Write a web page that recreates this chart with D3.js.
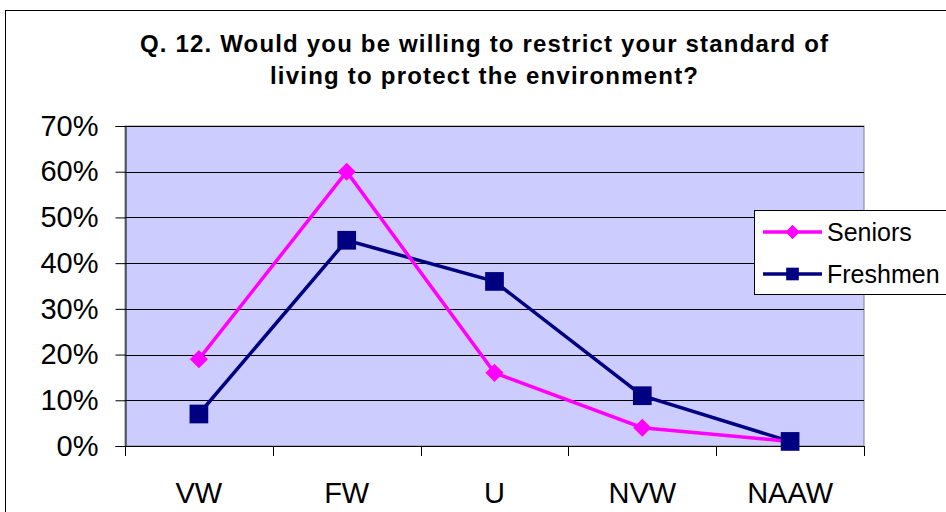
<!DOCTYPE html>
<html>
<head>
<meta charset="utf-8">
<script src="https://cdn.jsdelivr.net/npm/d3@7"></script>
<style>
  body { margin: 0; background: #fff; }
  text { font-family: Arial, "Liberation Sans", sans-serif; }
</style>
</head>
<body>
<svg id="chart"></svg>
<script>
const categories = ['VW', 'FW', 'U', 'NVW', 'NAAW'];
const seniors    = [0.19, 0.60, 0.16, 0.04, 0.01];
const freshmen   = [0.07, 0.45, 0.36, 0.11, 0.01];
const yTicks     = [0, 0.1, 0.2, 0.3, 0.4, 0.5, 0.6, 0.7];
const titleLines = ['Q. 12. Would you be willing to restrict your standard of',
                    'living to protect the environment?'];

const SENIOR_COLOR   = '#ff00ff';
const FRESHMAN_COLOR = '#000080';

const W = 946, H = 512;
const svg = d3.select('#chart').attr('width', W).attr('height', H);

// outer chart frame
svg.append('rect')
    .attr('x', 5.5).attr('y', 10.5)
    .attr('width', 1000).attr('height', 600)
    .attr('fill', '#fff').attr('stroke', '#000');

const plot = { left: 125, top: 126, right: 864, bottom: 446 };

const x = d3.scaleBand().domain(categories).range([plot.left, plot.right]);
const y = d3.scaleLinear().domain([0, 0.7]).range([plot.bottom, plot.top]);

// title
const titleWidths = [688, 428];
svg.append('g').selectAll('text')
    .data(titleLines)
    .join('text')
    .attr('x', 484)
    .attr('y', (d, i) => 52 + i * 32)
    .attr('text-anchor', 'middle')
    .attr('font-size', '24px')
    .attr('font-weight', 'bold')
    .attr('textLength', (d, i) => titleWidths[i])
    .attr('lengthAdjust', 'spacing')
    .text(d => d);

// plot background
svg.append('rect')
    .attr('x', plot.left).attr('y', plot.top)
    .attr('width', plot.right - plot.left)
    .attr('height', plot.bottom - plot.top)
    .attr('fill', '#ccccff')
    .attr('stroke', '#808080');

// gridlines
svg.append('g').selectAll('line')
    .data(yTicks.slice(1))
    .join('line')
    .attr('x1', plot.left).attr('x2', plot.right)
    .attr('y1', d => Math.round(y(d)) + 0.5)
    .attr('y2', d => Math.round(y(d)) + 0.5)
    .attr('stroke', '#000');

// y axis
const yAxis = svg.append('g')
    .attr('transform', `translate(${plot.left + 0.5},0)`)
    .call(d3.axisLeft(y).tickValues(yTicks).tickFormat(d3.format('.0%')).tickSize(10).tickPadding(17));
yAxis.selectAll('text').attr('font-size', '29px').attr('fill', '#000').style('font-family', 'Arial, "Liberation Sans", sans-serif');
yAxis.selectAll('line, path').attr('stroke', '#000');

// x axis: ticks on category boundaries
const xAxis = svg.append('g');
xAxis.append('line')
    .attr('x1', plot.left).attr('x2', plot.right)
    .attr('y1', plot.bottom + 0.5).attr('y2', plot.bottom + 0.5)
    .attr('stroke', '#000');
const bounds = categories.map(c => x(c)).concat([x.range()[1]]);
xAxis.selectAll('.tk')
    .data(bounds)
    .join('line')
    .attr('class', 'tk')
    .attr('x1', d => Math.round(d) + 0.5).attr('x2', d => Math.round(d) + 0.5)
    .attr('y1', plot.bottom).attr('y2', plot.bottom + 10)
    .attr('stroke', '#000');
xAxis.selectAll('text')
    .data(categories)
    .join('text')
    .attr('x', d => x(d) + x.bandwidth() / 2)
    .attr('y', 503)
    .attr('text-anchor', 'middle')
    .attr('font-size', '29px')
    .text(d => d);

const cx = (d, i) => x(categories[i]) + x.bandwidth() / 2;
const line = d3.line().x(cx).y(d => y(d));

// freshmen series
svg.append('path')
    .datum(freshmen)
    .attr('d', line)
    .attr('fill', 'none')
    .attr('stroke', FRESHMAN_COLOR)
    .attr('stroke-width', 3.5);

// seniors series
svg.append('path')
    .datum(seniors)
    .attr('d', line)
    .attr('fill', 'none')
    .attr('stroke', SENIOR_COLOR)
    .attr('stroke-width', 3.5);

const diamond = d3.symbol().type(d3.symbolDiamond2).size(210);
const square  = d3.symbol().type(d3.symbolSquare).size(350);

svg.append('g').selectAll('path')
    .data(seniors)
    .join('path')
    .attr('d', diamond)
    .attr('transform', (d, i) => `translate(${cx(d, i)},${y(d)})`)
    .attr('fill', SENIOR_COLOR);

svg.append('g').selectAll('path')
    .data(freshmen)
    .join('path')
    .attr('d', square)
    .attr('transform', (d, i) => `translate(${cx(d, i)},${y(d)})`)
    .attr('fill', FRESHMAN_COLOR);

// legend
const legend = svg.append('g');
legend.append('rect')
    .attr('x', 754.5).attr('y', 210.5)
    .attr('width', 200).attr('height', 84)
    .attr('fill', '#fff').attr('stroke', '#000');

const items = [
    { name: 'Seniors',  color: SENIOR_COLOR,   type: d3.symbolDiamond2, size: 130, cy: 232 },
    { name: 'Freshmen', color: FRESHMAN_COLOR, type: d3.symbolSquare,   size: 160, cy: 274 }
];
const li = legend.selectAll('.item')
    .data(items)
    .join('g')
    .attr('class', 'item');
li.append('line')
    .attr('x1', 763).attr('x2', 822)
    .attr('y1', d => d.cy).attr('y2', d => d.cy)
    .attr('stroke', d => d.color)
    .attr('stroke-width', 3.5);
li.append('path')
    .attr('d', d => d3.symbol().type(d.type).size(d.size)())
    .attr('transform', d => `translate(792.5,${d.cy})`)
    .attr('fill', d => d.color);
li.append('text')
    .attr('x', 827)
    .attr('y', d => d.cy + 9)
    .attr('font-size', '25px')
    .text(d => d.name);
</script>
</body>
</html>
